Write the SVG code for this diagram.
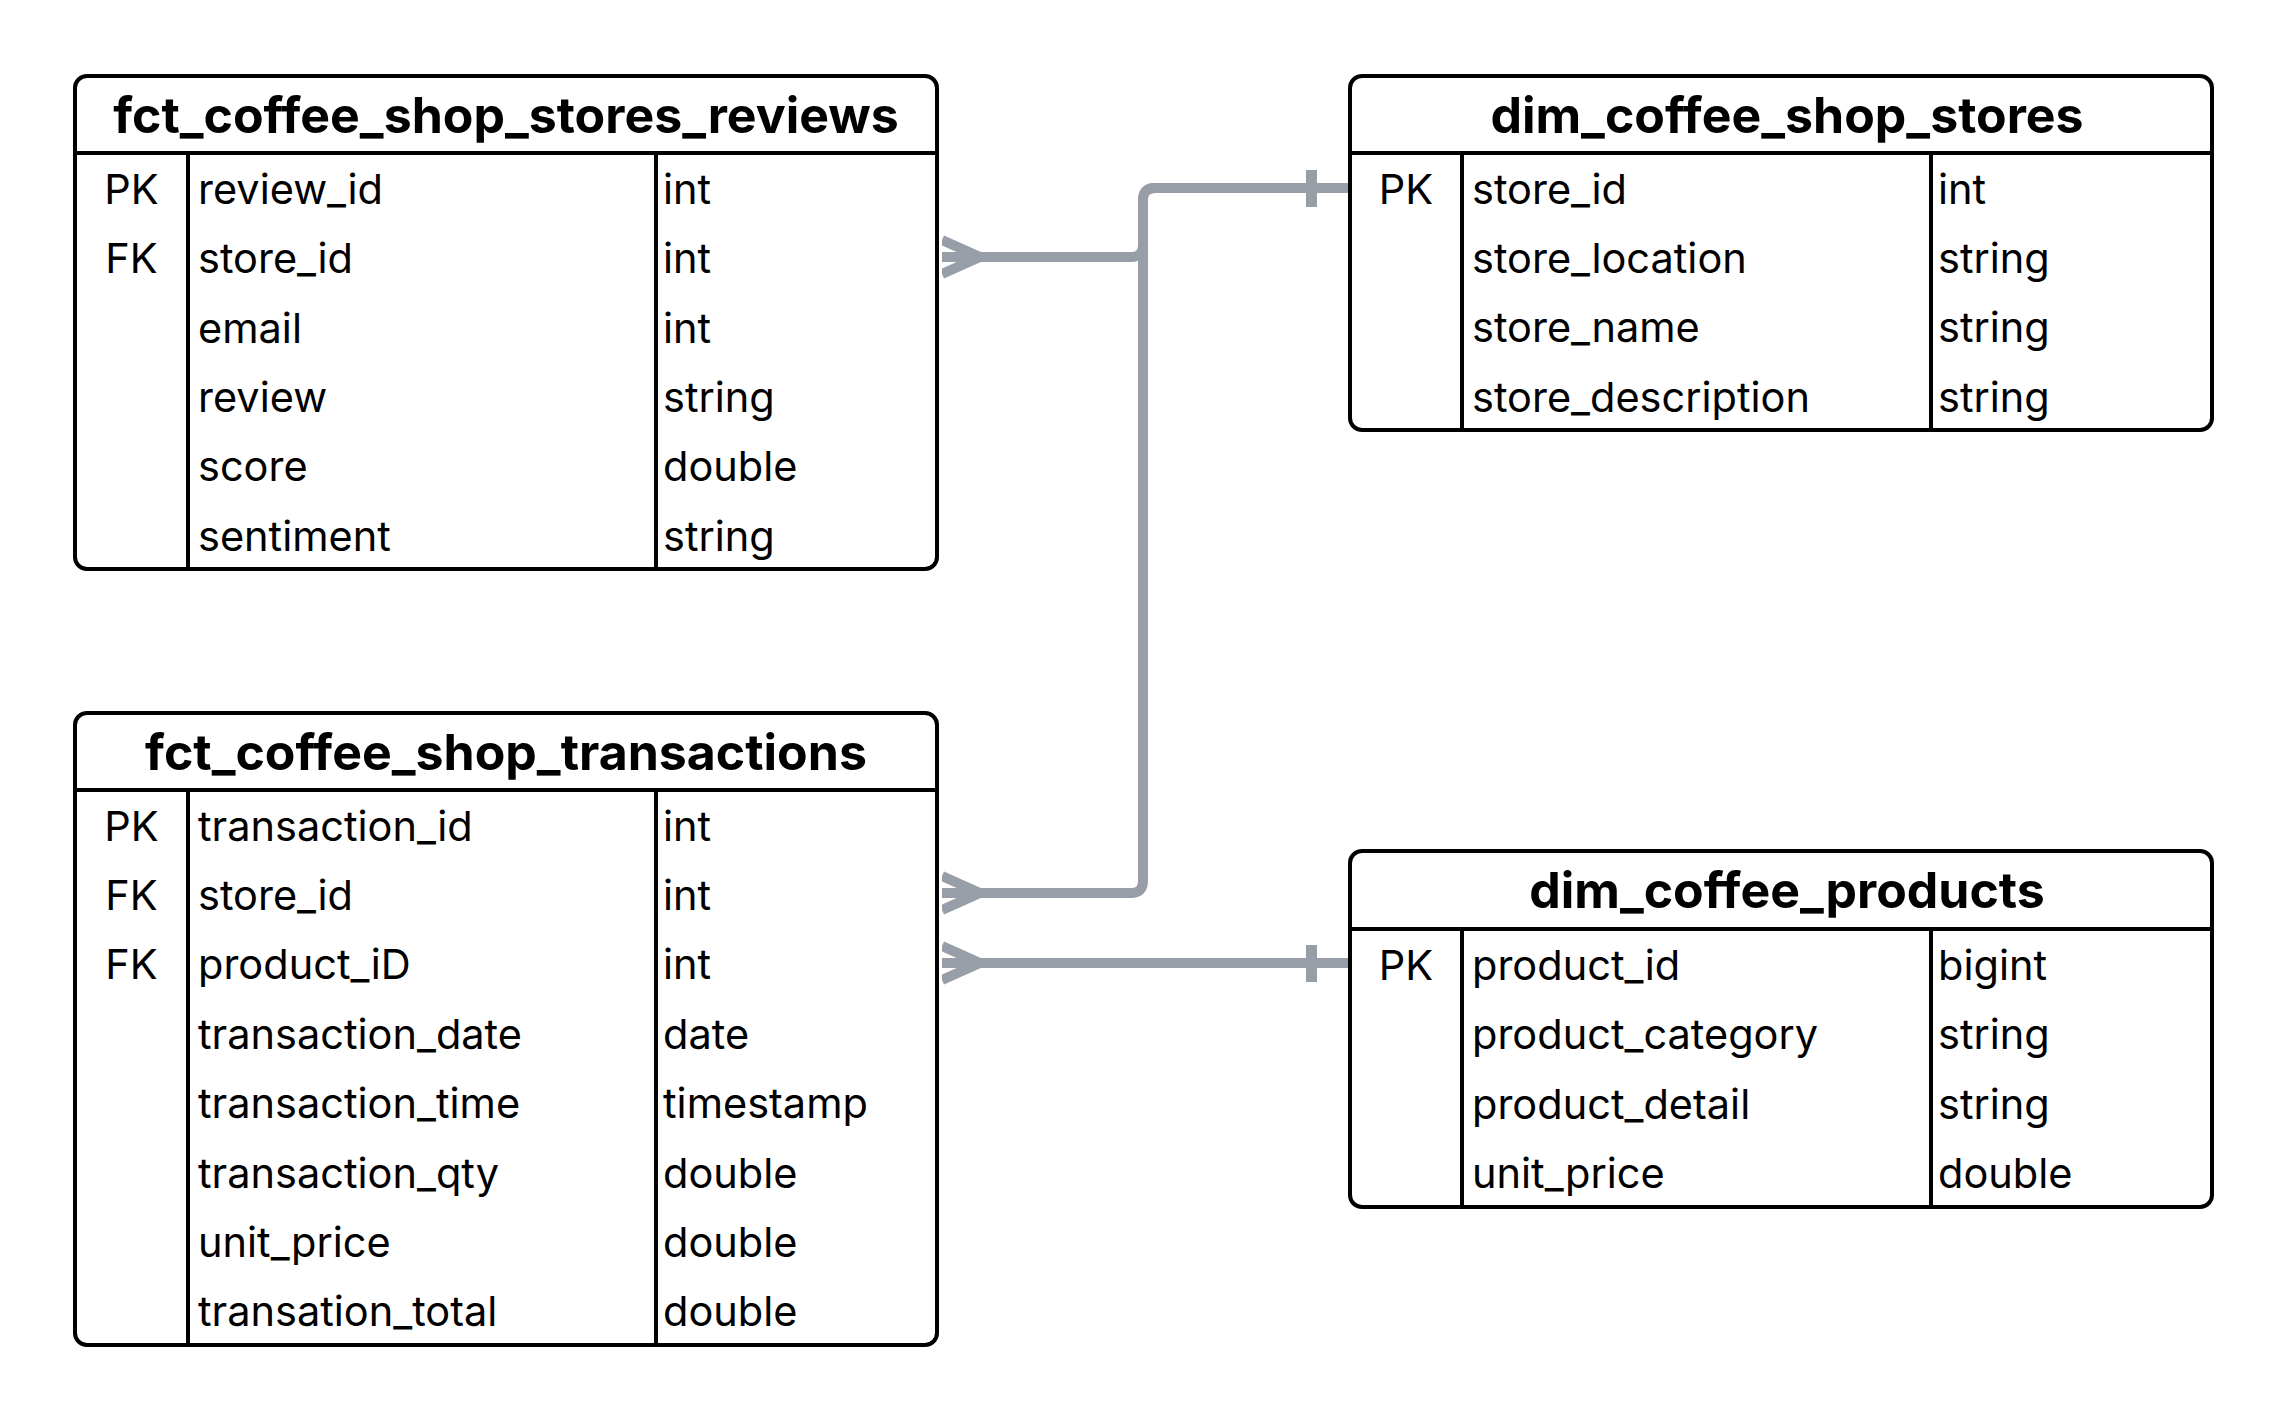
<svg xmlns="http://www.w3.org/2000/svg" width="2288" height="1421" viewBox="0 0 2288 1421">
<style>
.box{fill:#fff;stroke:#000;stroke-width:4}
.ln{stroke:#000;stroke-width:4}
.hd{font-family:Inter,"Liberation Sans",sans-serif;font-weight:700;font-size:50px;fill:#000;text-anchor:middle}
.tx{font-family:Inter,"Liberation Sans",sans-serif;font-size:41.5px;fill:#000}
.k{text-anchor:middle}
.cn{fill:none;stroke:#989ea8;stroke-width:10}
</style>
<defs>
<marker id="many" markerUnits="userSpaceOnUse" viewBox="0 0 50 50" markerWidth="50" markerHeight="50" refX="0" refY="25" orient="auto">
<path d="M0 8 L38 25 L0 42" fill="none" stroke="#989ea8" stroke-width="10"/>
</marker>
<marker id="one" markerUnits="userSpaceOnUse" viewBox="0 0 50 50" markerWidth="50" markerHeight="50" refX="50" refY="25" orient="auto">
<rect x="6" y="7" width="11" height="37" fill="#989ea8"/>
</marker>
</defs>

<g id="connectors">
<path class="cn" d="M942 257 H1131 Q1143 257 1143 245 V200 Q1143 188 1155 188 H1350" marker-start="url(#many)" marker-end="url(#one)"/>
<path class="cn" d="M942 893 H1131 Q1143 893 1143 881 V200 Q1143 188 1155 188 H1350" marker-start="url(#many)" marker-end="url(#one)"/>
<path class="cn" d="M942 963 H1350" marker-start="url(#many)" marker-end="url(#one)"/>
</g>

<g id="fct_coffee_shop_stores_reviews">
<rect class="box" x="75" y="76" width="862" height="493" rx="12"/>
<line class="ln" x1="75" y1="153" x2="937" y2="153"/>
<line class="ln" x1="188" y1="153" x2="188" y2="569"/>
<line class="ln" x1="656" y1="153" x2="656" y2="569"/>
<text class="hd" x="506" y="133">fct_coffee_shop_stores_reviews</text>
<text class="tx k" x="131.5" y="204">PK</text><text class="tx" x="198" y="204">review_id</text><text class="tx" x="663" y="204">int</text>
<text class="tx k" x="131.5" y="273">FK</text><text class="tx" x="198" y="273">store_id</text><text class="tx" x="663" y="273">int</text>
<text class="tx" x="198" y="343">email</text><text class="tx" x="663" y="343">int</text>
<text class="tx" x="198" y="412">review</text><text class="tx" x="663" y="412">string</text>
<text class="tx" x="198" y="481">score</text><text class="tx" x="663" y="481">double</text>
<text class="tx" x="198" y="551">sentiment</text><text class="tx" x="663" y="551">string</text>
</g>

<g id="fct_coffee_shop_transactions">
<rect class="box" x="75" y="713" width="862" height="632" rx="12"/>
<line class="ln" x1="75" y1="790" x2="937" y2="790"/>
<line class="ln" x1="188" y1="790" x2="188" y2="1345"/>
<line class="ln" x1="656" y1="790" x2="656" y2="1345"/>
<text class="hd" x="506" y="770">fct_coffee_shop_transactions</text>
<text class="tx k" x="131.5" y="841">PK</text><text class="tx" x="198" y="841">transaction_id</text><text class="tx" x="663" y="841">int</text>
<text class="tx k" x="131.5" y="910">FK</text><text class="tx" x="198" y="910">store_id</text><text class="tx" x="663" y="910">int</text>
<text class="tx k" x="131.5" y="979">FK</text><text class="tx" x="198" y="979">product_iD</text><text class="tx" x="663" y="979">int</text>
<text class="tx" x="198" y="1049">transaction_date</text><text class="tx" x="663" y="1049">date</text>
<text class="tx" x="198" y="1118">transaction_time</text><text class="tx" x="663" y="1118">timestamp</text>
<text class="tx" x="198" y="1188">transaction_qty</text><text class="tx" x="663" y="1188">double</text>
<text class="tx" x="198" y="1257">unit_price</text><text class="tx" x="663" y="1257">double</text>
<text class="tx" x="198" y="1326">transation_total</text><text class="tx" x="663" y="1326">double</text>
</g>

<g id="dim_coffee_shop_stores">
<rect class="box" x="1350" y="76" width="862" height="354" rx="12"/>
<line class="ln" x1="1350" y1="153" x2="2212" y2="153"/>
<line class="ln" x1="1462" y1="153" x2="1462" y2="430"/>
<line class="ln" x1="1931" y1="153" x2="1931" y2="430"/>
<text class="hd" x="1787" y="133">dim_coffee_shop_stores</text>
<text class="tx k" x="1406" y="204">PK</text><text class="tx" x="1472" y="204">store_id</text><text class="tx" x="1938" y="204">int</text>
<text class="tx" x="1472" y="273">store_location</text><text class="tx" x="1938" y="273">string</text>
<text class="tx" x="1472" y="342">store_name</text><text class="tx" x="1938" y="342">string</text>
<text class="tx" x="1472" y="412">store_description</text><text class="tx" x="1938" y="412">string</text>
</g>

<g id="dim_coffee_products">
<rect class="box" x="1350" y="851" width="862" height="356" rx="12"/>
<line class="ln" x1="1350" y1="929" x2="2212" y2="929"/>
<line class="ln" x1="1462" y1="929" x2="1462" y2="1207"/>
<line class="ln" x1="1931" y1="929" x2="1931" y2="1207"/>
<text class="hd" x="1787" y="908">dim_coffee_products</text>
<text class="tx k" x="1406" y="980">PK</text><text class="tx" x="1472" y="980">product_id</text><text class="tx" x="1938" y="980">bigint</text>
<text class="tx" x="1472" y="1049">product_category</text><text class="tx" x="1938" y="1049">string</text>
<text class="tx" x="1472" y="1119">product_detail</text><text class="tx" x="1938" y="1119">string</text>
<text class="tx" x="1472" y="1188">unit_price</text><text class="tx" x="1938" y="1188">double</text>
</g>
</svg>
